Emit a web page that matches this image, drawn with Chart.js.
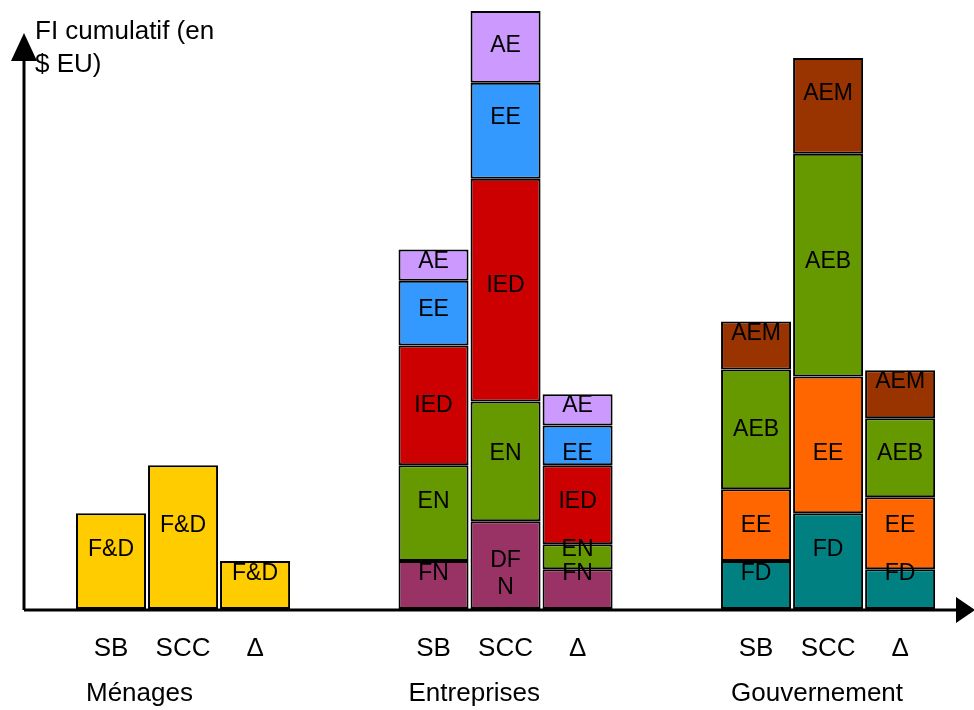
<!DOCTYPE html>
<html lang="fr">
<head>
<meta charset="utf-8">
<title>FI cumulatif</title>
<script src="https://cdn.jsdelivr.net/npm/chart.js@4.4.1/dist/chart.umd.min.js"></script>
<style>
  body { margin: 0; background: #fff; overflow: hidden; }
  canvas { display: block; }
</style>
</head>
<body>
<canvas id="fichart" width="974" height="710"></canvas>
<script>
// values (no y ticks in the original, arbitrary units)
const groups = ['Ménages', 'Entreprises', 'Gouvernement'];
const scenarios = ['SB', 'SCC', 'Δ'];

const menagesParts = ['F&D'];
const menagesSB = [2.0];
const menagesSCC = [3.0];
const menagesDelta = [1.0];

const entreprisesParts = ['FN', 'EN', 'IED', 'EE', 'AE'];
const entreprisesSCCParts = ['DF\nN', 'EN', 'IED', 'EE', 'AE'];
const entreprisesSB = [1.0, 2.0, 2.5, 1.35, 0.65];
const entreprisesSCC = [1.83, 2.5, 4.65, 2.0, 1.5];
const entreprisesDelta = [0.83, 0.52, 1.65, 0.83, 0.65];

const gouvernementParts = ['FD', 'EE', 'AEB', 'AEM'];
const gouvernementSB = [1.0, 1.5, 2.5, 1.0];
const gouvernementSCC = [2.0, 2.85, 4.65, 2.0];
const gouvernementDelta = [0.83, 1.5, 1.65, 1.0];

const menagesColors = ['#ffcc00'];
const entreprisesColors = ['#993366', '#669900', '#cc0000', '#3399ff', '#cc99ff'];
const gouvernementColors = ['#008080', '#ff6600', '#669900', '#993300'];

// group -> scenario -> layers
const values = [
  [menagesSB, menagesSCC, menagesDelta],
  [entreprisesSB, entreprisesSCC, entreprisesDelta],
  [gouvernementSB, gouvernementSCC, gouvernementDelta]
];
const parts = [
  [menagesParts, menagesParts, menagesParts],
  [entreprisesParts, entreprisesSCCParts, entreprisesParts],
  [gouvernementParts, gouvernementParts, gouvernementParts]
];
const colors = [menagesColors, entreprisesColors, gouvernementColors];

const layers = Math.max(...values.map(g => g[0].length));
const datasets = [];
scenarios.forEach((sc, s) => {
  for (let l = 0; l < layers; l++) {
    const data = [], bg = [], names = [];
    groups.forEach((g, gi) => {
      if (l < values[gi][s].length) {
        data.push({ x: gi, y: values[gi][s][l] });
        bg.push(colors[gi][l]);
        names.push(parts[gi][s][l]);
      }
    });
    datasets.push({
      label: sc + ' ' + l,
      stack: sc,
      data: data,
      backgroundColor: bg,
      borderColor: '#000',
      borderWidth: 2,
      borderSkipped: false,
      segNames: names
    });
  }
});

const FONT = '"Liberation Sans", Arial, sans-serif';

// labels in the boxes, arrows, category texts
const decorations = {
  id: 'decorations',
  afterDatasetsDraw(chart) {
    const ctx = chart.ctx;
    const area = chart.chartArea;
    ctx.save();
    ctx.fillStyle = '#000';
    ctx.font = '23px ' + FONT;
    ctx.textAlign = 'center';
    ctx.textBaseline = 'middle';
    // the original text boxes sit on a 24px row grid
    const row0 = area.bottom - 35, rowH = 24;
    chart.data.datasets.forEach((ds, di) => {
      chart.getDatasetMeta(di).data.forEach((bar, i) => {
        const lines = ds.segNames[i].split('\n');
        const lh = 27;
        const mid = (bar.y + bar.base) / 2 - 2;
        const k = Math.max(0, Math.round((row0 - mid) / rowH));
        const cy = row0 - k * rowH;
        lines.forEach((t, j) => {
          ctx.fillText(t, bar.x, cy + (j - (lines.length - 1) / 2) * lh);
        });
      });
    });

    // axes with arrows
    const x0 = area.left - 1, y0 = area.bottom;
    ctx.strokeStyle = '#000';
    ctx.lineWidth = 3;
    ctx.beginPath();
    ctx.moveTo(x0, y0 + 1);
    ctx.lineTo(x0, 58);
    ctx.moveTo(x0, y0 + 1);
    ctx.lineTo(958, y0 + 1);
    ctx.stroke();
    ctx.beginPath();
    ctx.moveTo(x0, 33);
    ctx.lineTo(x0 - 13, 61);
    ctx.lineTo(x0 + 13, 61);
    ctx.closePath();
    ctx.fill();
    ctx.beginPath();
    ctx.moveTo(975, y0 + 1);
    ctx.lineTo(956, y0 - 12);
    ctx.lineTo(956, y0 + 14);
    ctx.closePath();
    ctx.fill();

    // axis title
    ctx.font = '26px ' + FONT;
    ctx.textAlign = 'left';
    ctx.textBaseline = 'alphabetic';
    ctx.fillText('FI cumulatif (en', 35, 39);
    ctx.fillText('$ EU)', 35, 72);

    // scenario and group names under the bars
    ctx.font = '26px ' + FONT;
    scenarios.forEach((sc, s) => {
      const meta = chart.getDatasetMeta(s * layers);
      meta.data.forEach((bar) => {
        ctx.textAlign = 'center';
        ctx.fillText(sc, bar.x, 656);
      });
    });
    chart.getDatasetMeta(0).data.forEach((bar, gi) => {
      ctx.textAlign = 'left';
      ctx.fillText(groups[gi], bar.x - bar.width / 2 + 10, 701);
    });
    ctx.restore();
  }
};

const ctx = document.getElementById('fichart').getContext('2d');

const chart = new Chart(ctx, {
  type: 'bar',
  data: { datasets: datasets },
  options: {
    responsive: false,
    animation: false,
    devicePixelRatio: 1,
    categoryPercentage: 0.67,
    barPercentage: 0.972,
    layout: { padding: { left: 25, right: 14, top: 10, bottom: 101 } },
    plugins: {
      legend: { display: false },
      tooltip: { enabled: false }
    },
    scales: {
      x: {
        type: 'linear',
        stacked: true,
        offset: false,
        min: -0.49,
        max: 2.409,
        display: false,
        afterBuildTicks: (s) => { s.ticks = groups.map((g, i) => ({ value: i })); }
      },
      y: {
        stacked: true,
        min: 0,
        max: 12.5,
        display: false
      }
    }
  },
  plugins: [decorations]
});
</script>
</body>
</html>
